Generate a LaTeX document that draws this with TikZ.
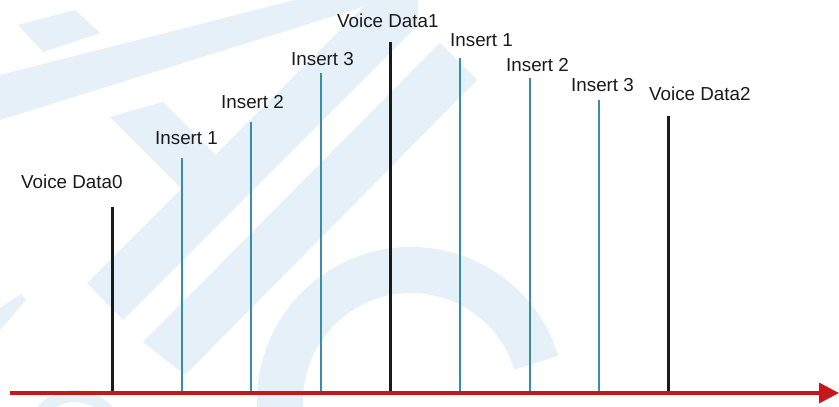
\documentclass[tikz,border=0pt]{standalone}
\usepackage{fontspec}
\setmainfont{Liberation Sans}
\usetikzlibrary{arrows.meta}
\definecolor{wm}{HTML}{E5F0F9}
\definecolor{tealline}{HTML}{3A8DA8}
\definecolor{axisred}{HTML}{C8161D}
\definecolor{darktext}{HTML}{1A1A1A}
\begin{document}
\begin{tikzpicture}[x=1pt,y=-1pt,
  voice/.style={line width=3pt, draw=darktext},
  ins/.style={line width=2pt, draw=tealline},
  lab/.style={anchor=base west, inner sep=0pt, font=\fontsize{18.8}{22}\selectfont, text=darktext},
  wmark/.style={fill=wm, draw=none}]
\useasboundingbox (0,0) rectangle (839,407);
\fill[white] (0,0) rectangle (839,407);
% faint watermark
\begin{scope}
\clip (0,0) rectangle (839,407);
\fill[wmark] (18,25) -- (75,10) -- (100,33) -- (43,52) -- cycle;
\fill[wmark] (0,75) -- (295,0) -- (385,0) -- (0,120) -- cycle;
\fill[wmark] (110,117) -- (163,102) -- (215.5,154.5) -- (181.5,188.5) -- cycle;
\fill[wmark] (87,283) -- (370,0) -- (418,0) -- (418,25) -- (123,320) -- cycle;
\fill[wmark] (143,342) -- (440,43) -- (477,80) -- (185,375) -- cycle;
\fill[wmark] (0,308) -- (21,294) -- (26,300) -- (0,330) -- cycle;
\draw[wm, line width=46pt] (411,401) ++(-17:131) arc[start angle=-17, end angle=-200, radius=131];
\draw[wm, line width=12pt] (75,440) circle[radius=44];
\end{scope}
% axis points and tops
\coordinate (a0) at (10,393);
\coordinate (a1) at (839,393);
\coordinate (b0) at (112,394); \coordinate (t0) at (112,207);
\coordinate (b1) at (181.5,394); \coordinate (t1) at (181.5,158);
\coordinate (b2) at (251,394); \coordinate (t2) at (251,122);
\coordinate (b3) at (321,394); \coordinate (t3) at (321,73);
\coordinate (b4) at (390,394); \coordinate (t4) at (390,42);
\coordinate (b5) at (460,394); \coordinate (t5) at (460,58);
\coordinate (b6) at (529.5,394); \coordinate (t6) at (529.5,78);
\coordinate (b7) at (599,394); \coordinate (t7) at (599,100);
\coordinate (b8) at (668,394); \coordinate (t8) at (668,116);
\draw[voice] (b0) -- (t0);
\draw[ins] (b1) -- (t1);
\draw[ins] (b2) -- (t2);
\draw[ins] (b3) -- (t3);
\draw[voice] (b4) -- (t4);
\draw[ins] (b5) -- (t5);
\draw[ins] (b6) -- (t6);
\draw[ins] (b7) -- (t7);
\draw[voice] (b8) -- (t8);
\draw[axisred, line width=3.5pt, -{Triangle[length=20pt,width=20pt]}] (a0) -- (a1);
% labels
\node[lab] (l0) at (21,188) {Voice Data0};
\node[lab] (l1) at (155,144) {Insert 1};
\node[lab] (l2) at (221,108) {Insert 2};
\node[lab] (l3) at (291,65) {Insert 3};
\node[lab] (l4) at (337,27) {Voice Data1};
\node[lab] (l5) at (450,46) {Insert 1};
\node[lab] (l6) at (506,71) {Insert 2};
\node[lab] (l7) at (571,91) {Insert 3};
\node[lab] (l8) at (649,100) {Voice Data2};
\end{tikzpicture}
\end{document}
